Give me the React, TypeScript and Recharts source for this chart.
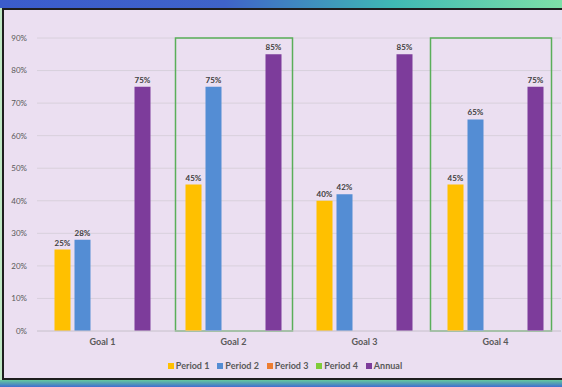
import { BarChart, Bar, XAxis, YAxis, CartesianGrid, LabelList, ReferenceArea } from "recharts"

const goals = ["Goal 1", "Goal 2", "Goal 3", "Goal 4"]
const period1 = [25, 45, 40, 45]
const period2 = [28, 75, 42, 65]
const period3: (number | null)[] = [null, null, null, null]
const period4: (number | null)[] = [null, null, null, null]
const annual = [75, 85, 85, 75]
const yTicks = [0, 10, 20, 30, 40, 50, 60, 70, 80, 90]

const series = [
  { key: "Period 1", color: "#FFC000" },
  { key: "Period 2", color: "#548DD4" },
  { key: "Period 3", color: "#ED7D31" },
  { key: "Period 4", color: "#80CC3A" },
  { key: "Annual", color: "#7D3C9B" },
]

const data = goals.map((goal, i) => ({
  goal,
  "Period 1": period1[i],
  "Period 2": period2[i],
  "Period 3": period3[i],
  "Period 4": period4[i],
  Annual: annual[i],
}))

const font = "Lato, 'Open Sans', sans-serif"

// green highlight boxes, inset a little from the category band
const boxShape = (left: number, right: number) => (props: any) => (
  <rect
    x={props.x + left}
    y={props.y}
    width={props.width - left - right}
    height={props.height}
    fill="none"
    stroke="#5AAE5A"
    strokeWidth={1.5}
  />
)

export default function App() {
  return (
    <div
      style={{
        position: "absolute",
        left: 0,
        top: 0,
        width: 562,
        height: 387,
        overflow: "hidden",
        background: "linear-gradient(90deg, #3b5ccc 0%, #3f63c9 40%, #3fb9b4 70%, #7ee0a8 100%)",
        fontFamily: font,
      }}
    >
      <div
        style={{
          position: "absolute",
          left: 0,
          top: 376,
          width: 562,
          height: 11,
          background: "linear-gradient(180deg, #b9e6c8 0%, #62c4a0 40%, #3f6fcf 100%)",
        }}
      />
      <div style={{ position: "absolute", left: 0, top: 8, width: 3, height: 372, background: "#bfe8c4" }} />
      <div
        style={{
          position: "absolute",
          left: 2,
          top: 8,
          width: 572,
          height: 368,
          border: "2px solid #1e1e1e",
          background: "#EBDFF1",
        }}
      />
      <div style={{ position: "absolute", left: 0, top: 0 }}>
        <BarChart
          width={562}
          height={387}
          data={data}
          margin={{ top: 38, right: 1, bottom: 36, left: 0 }}
          barCategoryGap={17.5}
          barGap={4}
        >
          <CartesianGrid vertical={false} stroke="#D8D0DC" strokeWidth={1} />
          <XAxis
            dataKey="goal"
            height={20}
            axisLine={{ stroke: "#D0C8D4" }}
            tickLine={false}
            tick={{ fontSize: 9, fontWeight: 700, fill: "#595959", fontFamily: font }}
          />
          <YAxis
            width={37}
            domain={[0, 90]}
            ticks={yTicks}
            axisLine={false}
            tickLine={false}
            tickMargin={4}
            tickFormatter={(v) => `${v}%`}
            tick={{ fontSize: 8, fill: "#595959", fontFamily: font }}
          />
          <ReferenceArea x1="Goal 2" x2="Goal 2" shape={boxShape(7.5, 6.5)} />
          <ReferenceArea x1="Goal 4" x2="Goal 4" shape={boxShape(0.5, 9.5)} />
          {series.map((s) => (
            <Bar key={s.key} dataKey={s.key} fill={s.color} isAnimationActive={false}>
              <LabelList
                dataKey={s.key}
                position="top"
                offset={4}
                formatter={(v: any) => (v == null ? "" : `${v}%`)}
                style={{ fontSize: 8, fontWeight: 700, fill: "#404040", fontFamily: font }}
              />
            </Bar>
          ))}
        </BarChart>
      </div>
      <div
        style={{
          position: "absolute",
          left: 0,
          top: 360,
          width: 570,
          display: "flex",
          justifyContent: "center",
          gap: 8,
          fontSize: 9,
          fontWeight: 700,
          color: "#595959",
        }}
      >
        {series.map((s) => (
          <div key={s.key} style={{ display: "flex", alignItems: "center" }}>
            <span style={{ width: 6, height: 6, background: s.color, marginRight: 2, display: "inline-block" }} />
            {s.key}
          </div>
        ))}
      </div>
    </div>
  )
}
